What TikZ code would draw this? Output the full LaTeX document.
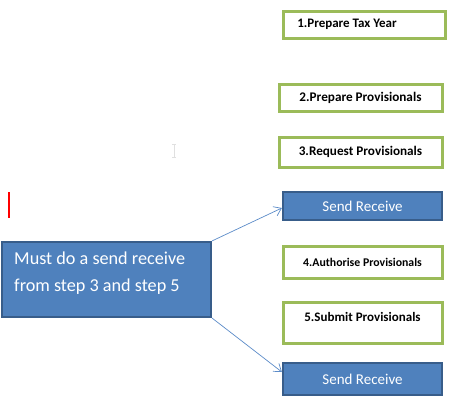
\documentclass[tikz,border=0pt]{standalone}
\usepackage{fontspec}
\setmainfont{Carlito}
\usetikzlibrary{arrows.meta}
\definecolor{stepgreen}{HTML}{9BBB59}
\definecolor{boxblue}{HTML}{4F81BD}
\definecolor{edgeblue}{HTML}{385D8A}
\definecolor{linkblue}{HTML}{5B8BC8}
\tikzset{
  greenbox/.style={draw=stepgreen, line width=3pt, fill=white, font=\bfseries, inner sep=0pt},
  bluebox/.style={draw=edgeblue, line width=2.2pt, fill=boxblue, text=white, inner sep=0pt},
  link/.style={draw=linkblue, line width=0.7pt, -{Straight Barb[length=7pt,width=10pt]}}
}
\begin{document}
\begin{tikzpicture}[x=1pt,y=-1pt]
\useasboundingbox (0,0) rectangle (467,415);
% green step boxes
\node[greenbox, minimum width=162pt, minimum height=27pt] (s1) at (364,24.5) {};
\node[font=\bfseries\fontsize{13}{15}\selectfont, inner sep=0pt] (s1t) at (347,24.5) {1.Prepare Tax Year};
\node[greenbox, minimum width=163pt, minimum height=27pt, font=\bfseries\fontsize{13.2}{15}\selectfont] (s2) at (360.5,97.5) {2.Prepare Provisionals};
\node[greenbox, minimum width=163pt, minimum height=30pt, font=\bfseries\fontsize{13.2}{15}\selectfont] (s3) at (360.5,152) {3.Request Provisionals};
\node[bluebox, minimum width=159pt, minimum height=28pt, font=\fontsize{15}{17}\selectfont] (r1) at (362.5,206) {Send Receive};
\node[greenbox, minimum width=159pt, minimum height=32pt, font=\bfseries\fontsize{11.8}{14}\selectfont] (s4) at (362.5,262) {4.Authorise Provisionals};
\node[greenbox, minimum width=159pt, minimum height=41pt] (s5) at (362.5,322.5) {};
\node[font=\bfseries\fontsize{13}{15}\selectfont, inner sep=0pt, anchor=center] (s5t) at (362.5,317) {5.Submit Provisionals};
\node[bluebox, minimum width=159pt, minimum height=32pt, font=\fontsize{15}{17}\selectfont] (r2) at (362.5,379) {Send Receive};
% note box
\node[bluebox, minimum width=209pt, minimum height=75pt] (note) at (106.5,279.5) {};
\node[text=white, anchor=north west, align=left, inner sep=0pt, font=\fontsize{18.2}{27}\selectfont] (notet) at (14,252) {Must do a send receive\\from step 3 and step 5};
% connectors
\draw[link] (note.north east) -- ([yshift=-2pt]r1.west);
\draw[link] (note.south east) -- ([yshift=7pt]r2.west);
% red caret
\draw[red, line width=1.3pt] (9,192) -- (9,218);
% faint text cursor
\draw[black!12, line width=0.5pt] (174,144) -- (174,157) (172,144) -- (176,144) (172,157) -- (176,157);
\end{tikzpicture}
\end{document}
